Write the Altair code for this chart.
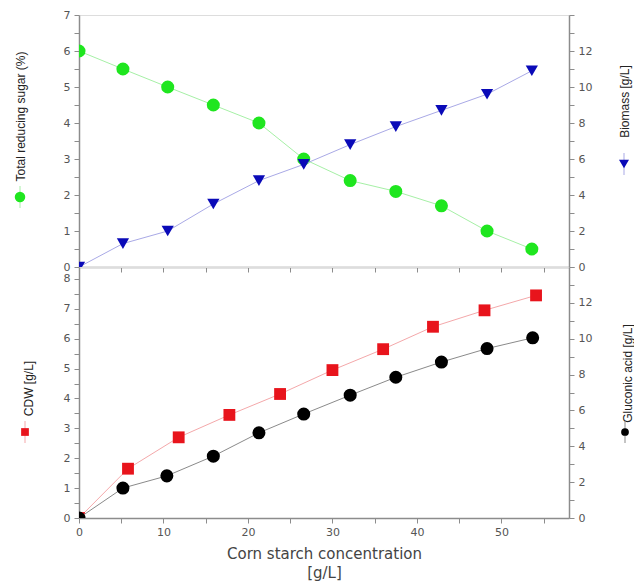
import altair as alt
import pandas as pd

# ---- data ----
x_top = [0, 5.2, 10.5, 15.9, 21.3, 26.6, 32.1, 37.5, 42.9, 48.3, 53.6]
trs = [6.0, 5.5, 5.0, 4.5, 4.0, 3.0, 2.4, 2.1, 1.7, 1.0, 0.5]
biomass = [0.0, 1.3, 2.0, 3.5, 4.8, 5.7, 6.8, 7.8, 8.7, 9.6, 10.9]
x_cdw = [0, 5.8, 11.8, 17.8, 23.8, 30.0, 36.0, 41.9, 48.0, 54.1]
cdw = [0.0, 1.65, 2.7, 3.45, 4.15, 4.95, 5.65, 6.4, 6.95, 7.45]
x_gluc = [0, 5.2, 10.4, 15.9, 21.3, 26.6, 32.1, 37.5, 42.9, 48.3, 53.7]
gluconic = [0.0, 1.67, 2.35, 3.45, 4.75, 5.8, 6.85, 7.85, 8.7, 9.45, 10.05]

x_ticks = list(range(0, 60, 5))
left_top_ticks = [i * 0.5 for i in range(0, 15)]
left_bot_ticks = [i * 0.5 for i in range(0, 17)]
right_ticks = list(range(0, 15))

GREEN, GREEN_L = "#1fe61f", "#a6f0a6"
BLUE, BLUE_L = "#0a0ab8", "#a9a9e6"
RED, RED_L = "#e8141c", "#f4a8aa"
BLACK, BLACK_L = "#000000", "#8a8a8a"
AX = "#8c8c8c"
TITLE_FONT = "Liberation Sans"
LABEL_FONT = "DejaVu Sans"

W, H1, H2 = 490, 252, 251

df_trs = pd.DataFrame({"x": x_top, "y": trs})
df_bio = pd.DataFrame({"x": x_top, "y": biomass})
df_cdw = pd.DataFrame({"x": x_cdw, "y": cdw})
df_glu = pd.DataFrame({"x": x_gluc, "y": gluconic})
one = pd.DataFrame({"k": [0]})

xscale = alt.Scale(domain=[0, 58], nice=False, zero=False)

base_axis = dict(
    domainColor=AX, domainWidth=1.5, tickColor=AX, tickSize=5, tickWidth=1,
    labelFont=LABEL_FONT, labelFontSize=11, labelColor="#555555",
    labelOverlap=False, labelFlush=False, grid=False,
)
title_style = dict(titleFont=TITLE_FONT, titleFontSize=12, titleColor="#222222",
                   titleFontWeight="normal")


def xenc(show):
    if show:
        ax = alt.Axis(values=x_ticks, labelExpr="datum.value % 10 == 0 ? format(datum.value, 'd') : ''",
                      title=["Corn starch concentration", "[g/L]"], titleFont=LABEL_FONT,
                      titleFontSize=15, titleColor="#444444", titleFontWeight="normal",
                      titlePadding=9, titleLineHeight=19, labelPadding=3, **base_axis)
    else:
        ax = alt.Axis(values=x_ticks, labels=False, title=None, **base_axis)
    return alt.X("x:Q", scale=xscale, axis=ax)


def yenc(domain, ticks, orient, label_expr, title, tx, ty):
    ax = alt.Axis(orient=orient, values=ticks, labelExpr=label_expr, title=title,
                  titleAngle=270, titleX=tx, titleY=ty, titleAlign="center",
                  titleBaseline="middle", labelPadding=4, **base_axis, **title_style)
    return alt.Y("y:Q", scale=alt.Scale(domain=domain, nice=False, zero=False), axis=ax)


def series(df, y, line_col, pt_col, shape, size, show_x):
    x = xenc(show_x)
    line = alt.Chart(df).mark_line(color=line_col, strokeWidth=1, clip=True).encode(x=x, y=y)
    pts = alt.Chart(df).mark_point(shape=shape, filled=True, size=size, color=pt_col,
                                   opacity=1, clip=True).encode(x=x, y=y)
    return alt.layer(line, pts)


def glyph(xp, yp, line_col, pt_col, shape, size):
    r = alt.Chart(one).mark_rule(color=line_col, strokeWidth=1).encode(
        x=alt.value(xp), y=alt.value(yp - 11), y2=alt.value(yp + 11))
    p = alt.Chart(one).mark_point(shape=shape, filled=True, size=size, color=pt_col, opacity=1).encode(
        x=alt.value(xp), y=alt.value(yp))
    return alt.layer(r, p)


left_int = "datum.value % 1 == 0 ? format(datum.value, 'd') : ''"
right_even = "datum.value % 2 == 0 && datum.value <= 12 ? format(datum.value, 'd') : ''"

# ---- top panel ----
y_trs = yenc([0, 7], left_top_ticks, "left", left_int, "Total reducing sugar (%)", -59, 101)
y_bio = yenc([0, 14], right_ticks, "right", right_even, "Biomass [g/L]", 55, 86)
top = alt.layer(
    series(df_trs, y_trs, GREEN_L, GREEN, "circle", 170, False),
    series(df_bio, y_bio, BLUE_L, BLUE, "triangle-down", 150, False),
    glyph(-59, 182, GREEN_L, GREEN, "circle", 110),
    glyph(545, 149, BLUE_L, BLUE, "triangle-down", 100),
).resolve_scale(y="independent").properties(width=W, height=H1)

# ---- bottom panel ----
y_cdw = yenc([0, 8.4], left_bot_ticks, "left", left_int, "CDW [g/L]", -51, 121)
y_glu = yenc([0, 14], right_ticks, "right", right_even, "Gluconic acid [g/L]", 58, 106)
bottom = alt.layer(
    series(df_cdw, y_cdw, RED_L, RED, "square", 140, True),
    series(df_glu, y_glu, BLACK_L, BLACK, "circle", 170, True),
    glyph(-54, 165, RED_L, RED, "square", 60),
    glyph(546, 165, BLACK_L, BLACK, "circle", 60),
).resolve_scale(y="independent").properties(width=W, height=H2)

chart = alt.vconcat(top, bottom, spacing=0, bounds="flush").properties(
    padding={"left": 5, "top": 0, "right": 0, "bottom": 0}
).configure_view(stroke=AX, strokeWidth=1.5).configure(background="white")

chart.save("out.html", embed_options={"renderer": "svg", "actions": False})
